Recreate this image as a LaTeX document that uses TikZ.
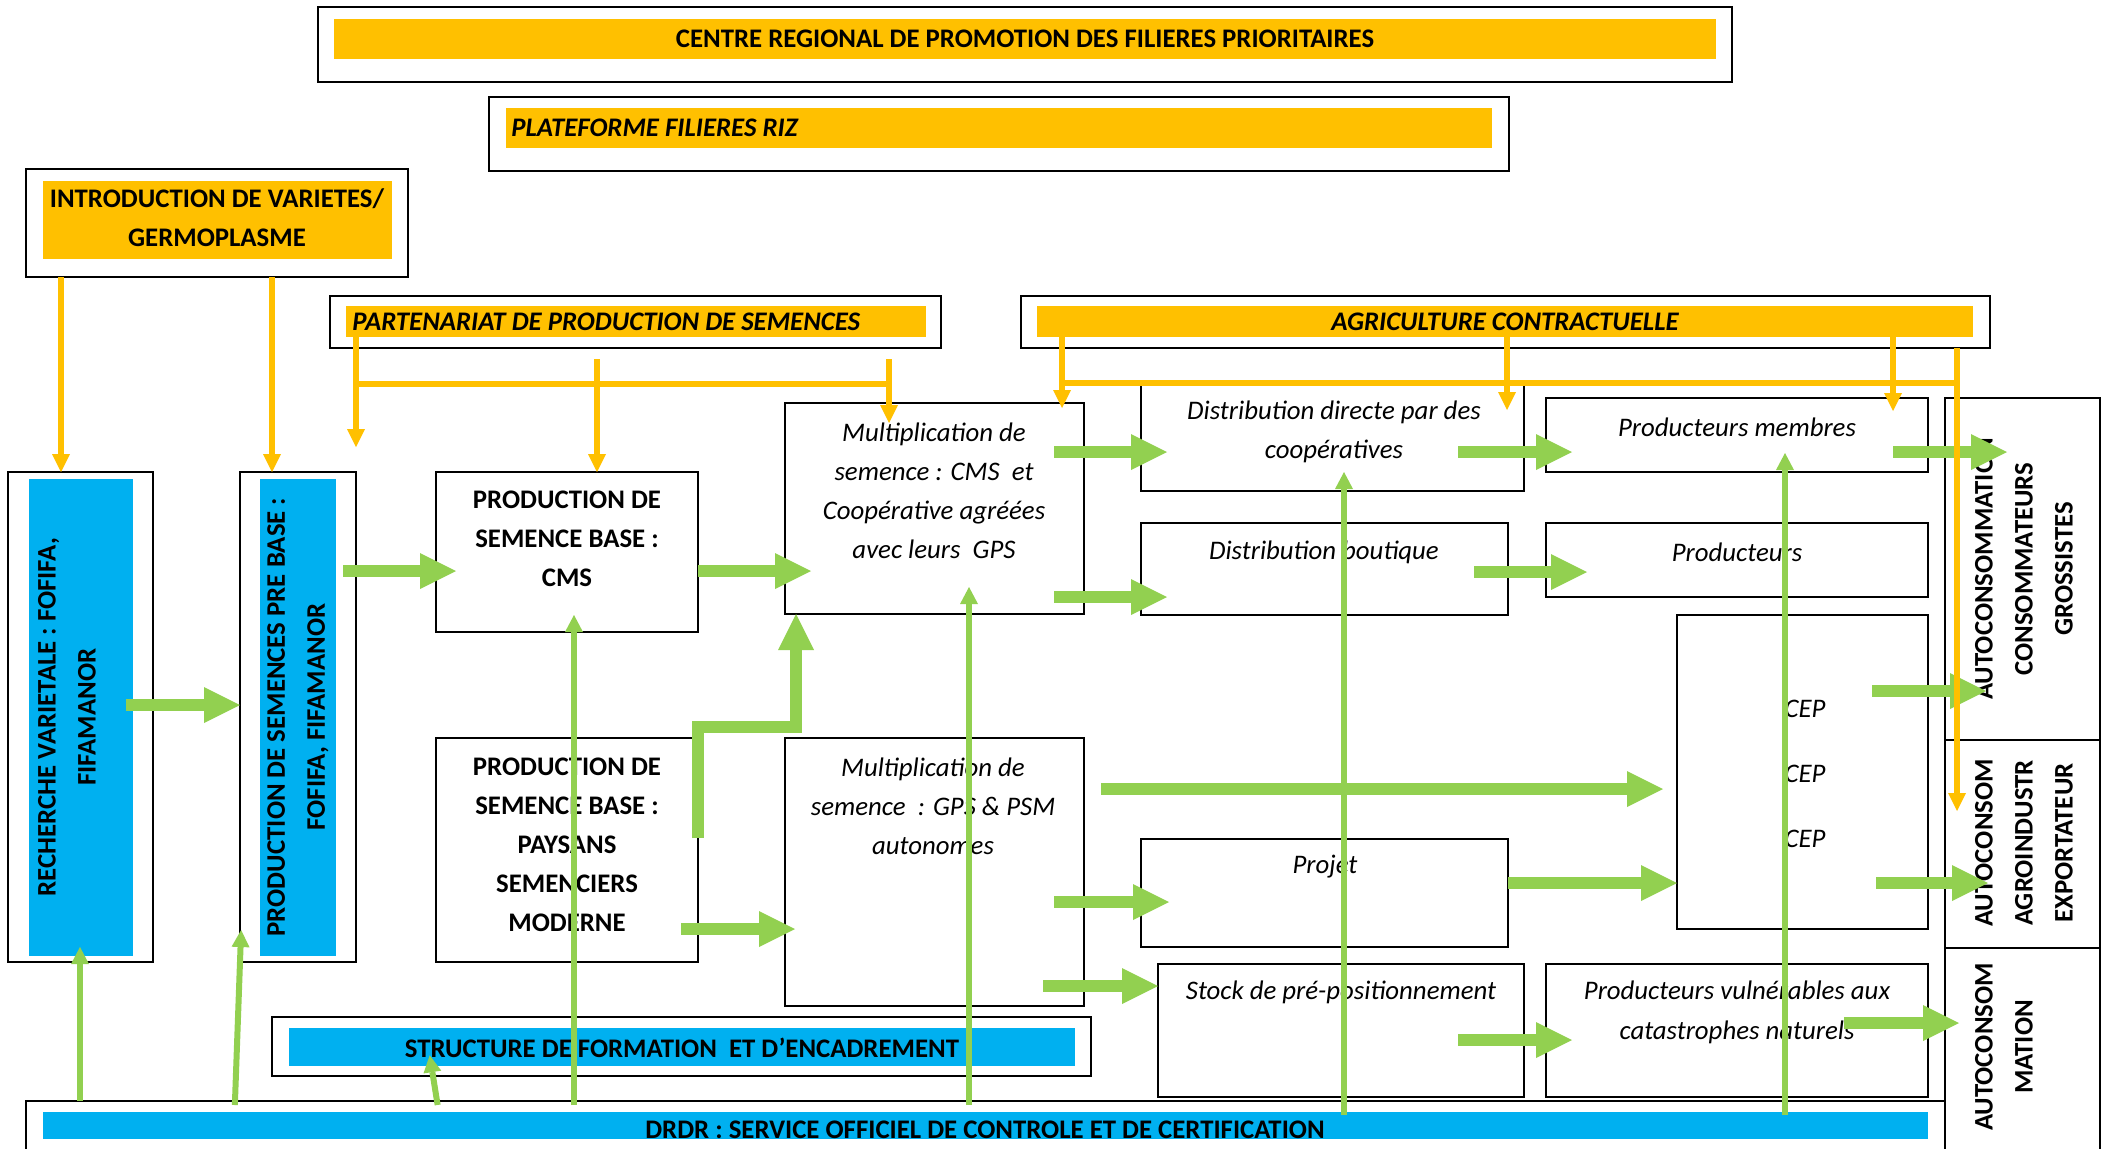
\documentclass[tikz,border=0pt]{standalone}
\usepackage{fontspec}
\setmainfont{Carlito}
\usetikzlibrary{fit,arrows.meta}
\definecolor{gold}{HTML}{FFC000}
\definecolor{sky}{HTML}{00B0F0}
\definecolor{leaf}{HTML}{92D050}

\begin{document}
\begin{tikzpicture}[x=0.5pt,y=-0.5pt,
  frame/.style={draw=black, line width=1.1pt, inner sep=0pt, outer sep=0pt},
  goldbar/.style={fill=gold, inner sep=0pt, outer sep=0pt},
  skybar/.style={fill=sky, inner sep=0pt, outer sep=0pt},
  txt/.style={inner sep=0pt, align=center, font=\fontsize{13.4}{19.5}\selectfont},
  bold/.style={txt, font=\fontsize{13.4}{19.5}\selectfont\bfseries},
  ital/.style={txt, font=\fontsize{13.4}{19.5}\selectfont\itshape},
  boldital/.style={txt, font=\fontsize{13.4}{19.5}\selectfont\bfseries\itshape},
  vbold/.style={txt, rotate=90, font=\fontsize{13.4}{20}\selectfont\bfseries},
  fat/.style={draw=leaf, line width=6pt, -{Triangle[length=18pt,width=18pt,line width=0pt]}},
  slim/.style={draw=leaf, line width=3pt, -{Triangle[length=8.5pt,width=9pt,line width=0pt]}},
  feed/.style={draw=gold, line width=2.75pt},
  feedarrow/.style={feed, -{Triangle[length=9pt,width=9pt,line width=0pt]}},
]
\useasboundingbox (0,0) rectangle (2105,1148);
\clip (0,0) rectangle (2105,1148);

% ---------- headings ----------
\node[frame, fit={(318,7) (1732,82)}] (centre) {};
\node[goldbar, fit={(334,19) (1716,59)}] (centrebar) {};
\node[bold] (centretxt) at (centrebar) {CENTRE REGIONAL DE PROMOTION DES FILIERES PRIORITAIRES};

\node[frame, fit={(489,97) (1509,171)}] (plat) {};
\node[goldbar, fit={(506,108) (1492,148)}] (platbar) {};
\node[boldital, anchor=west] (plattxt) at (511,128) {PLATEFORME FILIERES RIZ};

\node[frame, fit={(26,169) (408,277)}] (intro) {};
\node[goldbar, fit={(43,181) (392,259)}] (introbar) {};
\node[bold] (introtxt) at (217,218) {INTRODUCTION DE VARIETES/\\GERMOPLASME};

\node[frame, fit={(330,296) (941,348)}] (part) {};
\node[goldbar, fit={(346,306) (926,337)}] (partbar) {};
\node[boldital, anchor=west] (parttxt) at (352,322) {PARTENARIAT DE PRODUCTION DE SEMENCES};

\node[frame, fit={(1021,296) (1990,348)}] (agri) {};
\node[goldbar, fit={(1037,306) (1973,337)}] (agribar) {};
\node[boldital] (agritxt) at (agribar) {AGRICULTURE CONTRACTUELLE};

% ---------- research and pre-base seed ----------
\node[frame, fit={(8,472) (153,962)}] (rech) {};
\node[skybar, fit={(29,479) (133,956)}] (rechbar) {};
\node[vbold] (rechtxt) at (67,717) {RECHERCHE VARIETALE : FOFIFA,\\FIFAMANOR};

\node[frame, fit={(240,472) (356,962)}] (preb) {};
\node[skybar, fit={(260,479) (336,956)}] (prebbar) {};
\node[vbold] (prebtxt) at (298,717) {PRODUCTION DE SEMENCES PRE BASE :\\FOFIFA, FIFAMANOR};

% ---------- base seed and multiplication ----------
\node[frame, fit={(436,472) (698,632)}] (cms) {};
\node[bold] (cmstxt) at (567,539) {PRODUCTION DE\\SEMENCE BASE :\\CMS};

\node[frame, fit={(436,738) (698,962)}] (pay) {};
\node[bold] (paytxt) at (567,845) {PRODUCTION DE\\SEMENCE BASE :\\PAYSANS\\SEMENCIERS\\MODERNE};

\node[frame, fit={(785,403) (1084,614)}] (mcms) {};
\node[ital] (mcmstxt) at (934,491) {Multiplication de\\semence : CMS~ et\\Coopérative agréées\\avec leurs~ GPS};

\node[frame, fit={(785,738) (1084,1006)}] (mgps) {};
\node[ital] (mgpstxt) at (933,806) {Multiplication de\\semence~ : GPS \& PSM\\autonomes};

% ---------- distribution ----------
\node[frame, fit={(1141,385) (1524,491)}] (dd) {};
\node[ital] (ddtxt) at (1334,432) {Distribution directe par des\\coopératives};

\node[frame, fit={(1141,523) (1508,615)}] (db) {};
\node[ital] (dbtxt) at (1324,552) {Distribution boutique};

\node[frame, fit={(1546,398) (1928,472)}] (pm) {};
\node[ital] (pmtxt) at (1737,427) {Producteurs membres};

\node[frame, fit={(1546,523) (1928,597)}] (pr) {};
\node[ital] (prtxt) at (1737,552) {Producteurs};

\node[frame, fit={(1677,615) (1928,929)}] (cep) {};
\node[ital, font=\fontsize{13.4}{32.5}\selectfont\itshape] (ceptxt) at (1805,774) {CEP\\CEP\\CEP};

\node[frame, fit={(1141,839) (1508,947)}] (proj) {};
\node[ital] (projtxt) at (1325,867) {Projet};

\node[frame, fit={(1158,964) (1524,1097)}] (stock) {};
\node[ital] (stocktxt) at (1341,992) {Stock de pré-positionnement};

\node[frame, fit={(1546,964) (1928,1097)}] (vuln) {};
\node[ital, font=\fontsize{13.4}{20}\selectfont\itshape] (vulntxt) at (1737,1012) {Producteurs vulnérables aux\\catastrophes naturels};

% ---------- outlets ----------
\node[frame, fit={(1945,398) (2100,740)}] (dest1) {};
\node[vbold] (dest1txt) at (2024,569) {AUTOCONSOMMATION\\CONSOMMATEURS\\GROSSISTES};
\node[frame, fit={(1945,740) (2100,948)}] (dest2) {};
\node[vbold] (dest2txt) at (2024,843) {AUTOCONSOM\\AGROINDUSTR\\EXPORTATEUR};
\node[frame, fit={(1945,948) (2100,1175)}] (dest3) {};
\node[vbold] (dest3txt) at (2004,1047) {AUTOCONSOM\\MATION};

% ---------- support structures ----------
\node[frame, fit={(272,1017) (1091,1076)}] (struct) {};
\node[skybar, fit={(289,1028) (1075,1066)}] (structbar) {};
\node[bold] (structtxt) at (682,1048) {STRUCTURE DE FORMATION~ ET D’ENCADREMENT};

\node[frame, fit={(26,1101) (1945,1175)}] (drdr) {};
\node[skybar, fit={(43,1112) (1928,1139)}] (drdrbar) {};
\node[bold] (drdrtxt) at (985,1130) {DRDR : SERVICE OFFICIEL DE CONTROLE ET DE CERTIFICATION};

% ---------- seed flow (thick green) ----------
\draw[fat, shorten <=-13.5pt] (rech.east |- 0,705) -- (preb.west |- 0,705);
\draw[fat, shorten <=-6.5pt, shorten >=-10pt] (preb.east |- 0,571) -- (cms.west |- 0,571);
\draw[fat, shorten >=-13pt] (cms.east |- 0,571) -- (mcms.west |- 0,571);
\draw[fat, shorten <=-8.5pt, shorten >=-5pt] (pay.east |- 0,929) -- (mgps.west |- 0,929);
\draw[fat] (pay.east |- 0,838) -- (pay.east |- 0,727) -- (796,727) -- (796,0 |- mcms.south);
\draw[fat, shorten <=-15pt, shorten >=-13pt] (mcms.east |- 0,452) -- (dd.west |- 0,452);
\draw[fat, shorten <=-15pt, shorten >=-13pt] (mcms.east |- 0,597) -- (db.west |- 0,597);
\draw[fat, shorten <=-33pt, shorten >=-13pt] (dd.east |- 0,452) -- (pm.west |- 0,452);
\draw[fat, shorten <=-17pt, shorten >=-20.5pt] (db.east |- 0,572) -- (pr.west |- 0,572);
\draw[fat, shorten <=8.5pt, shorten >=7pt] (mgps.east |- 0,789) -- (cep.west |- 0,789);
\draw[fat] (proj.east |- 0,883) -- (cep.west |- 0,883);
\draw[fat, shorten <=-15pt, shorten >=-14pt] (mgps.east |- 0,902) -- (proj.west |- 0,902);
\draw[fat, shorten <=-20.5pt] (mgps.east |- 0,986) -- (stock.west |- 0,986);
\draw[fat, shorten <=-33pt, shorten >=-13pt] (stock.east |- 0,1040) -- (vuln.west |- 0,1040);
\draw[fat, shorten <=-17.5pt, shorten >=-31pt] (pm.east |- 0,452) -- (dest1.west |- 0,452);
\draw[fat, shorten <=-28pt, shorten >=-20.5pt] (cep.east |- 0,691) -- (dest1.west |- 0,691);
\draw[fat, shorten <=-26pt, shorten >=-21.5pt] (cep.east |- 0,883) -- (dest2.west |- 0,883);
\draw[fat, shorten <=53.5pt, shorten >=-7pt] (vuln.center |- 0,1023) -- (dest3.west |- 0,1023);

% ---------- control and certification (thin green) ----------
\draw[slim, shorten >=-7.5pt] (80,0 |- drdr.north) -- (80,0 |- rech.south);
\draw[slim, shorten <=-2pt, shorten >=-16pt] (235,0 |- drdr.north) -- (preb.south west);
\draw[slim, shorten <=-2pt, shorten >=-10.5pt] (437,0 |- drdr.north) -- (433,0 |- struct.south);
\draw[slim, shorten <=-2pt, shorten >=-8.5pt] (574,0 |- drdr.north) -- (574,0 |- cms.south);
\draw[slim, shorten <=-2pt, shorten >=-13.5pt] (969,0 |- drdr.north) -- (969,0 |- mcms.south);
\draw[slim, shorten <=-7pt, shorten >=-9.5pt] (1344,0 |- drdr.north) -- (1344,0 |- dd.south);
\draw[slim, shorten <=-7pt, shorten >=-9.5pt] (1785,0 |- drdr.north) -- (1785,0 |- pm.south);

% ---------- introduction and partnerships (gold) ----------
\draw[feedarrow] (61,0 |- intro.south) -- (61,0 |- rech.north);
\draw[feedarrow] (272,0 |- intro.south) -- (272,0 |- preb.north);

\coordinate (pjleft) at (356,384);
\coordinate (pjright) at (889,384);
\coordinate (pjmidtop) at (597,359);
\coordinate (pjrighttop) at (889,359);
\draw[feedarrow, shorten >=12.5pt] (preb.north east |- partbar.south) -- (preb.north east);
\draw[feed] (pjleft) -- (pjright);
\draw[feedarrow] (pjmidtop) -- (597,0 |- cms.north);
\draw[feedarrow, shorten >=-10pt] (pjrighttop) -- (889,0 |- mcms.north);

\coordinate (acleft) at (1062,383);
\coordinate (acright) at (1957,383);
\draw[feed] (acleft) -- (acright);
\draw[feedarrow, shorten >=-2.5pt] (1062,0 |- agribar.south) -- (1062,0 |- mcms.north);
\draw[feedarrow, shorten >=-12.5pt] (1507,0 |- agribar.south) -- (1507,0 |- dd.north);
\draw[feedarrow, shorten >=-6.5pt] (1893,0 |- agribar.south) -- (1893,0 |- pm.north);
\draw[feedarrow, shorten >=-35.5pt] (1957,0 |- agri.south) -- (1957,0 |- dest2.north);

\end{tikzpicture}
\end{document}
